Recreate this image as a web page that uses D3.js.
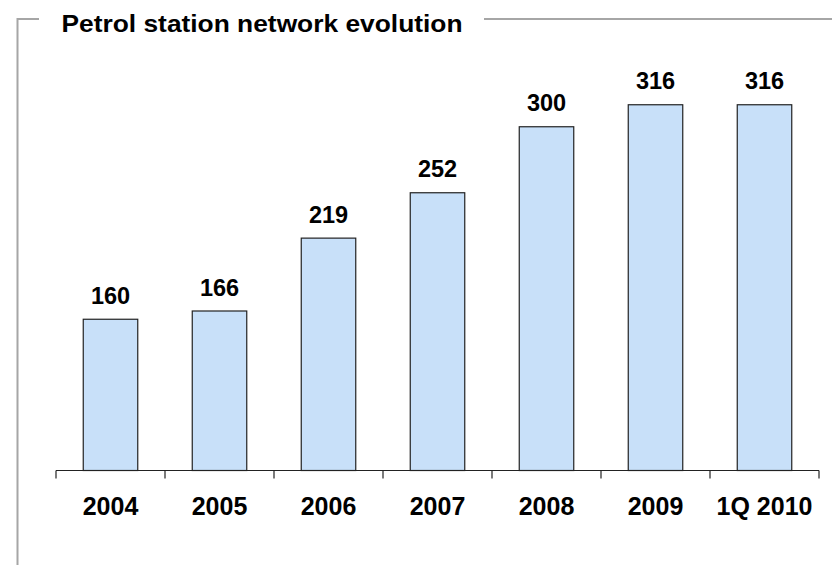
<!DOCTYPE html>
<html><head><meta charset="utf-8">
<script src="https://cdn.jsdelivr.net/npm/d3@7/dist/d3.min.js"></script>
<style>body{margin:0;background:#fff}svg{display:block}text{font-family:"Liberation Sans",Arial,sans-serif;font-weight:bold;fill:#000}</style>
</head><body><svg id="c" width="832" height="565"></svg>
<script>
const categories = ["2004","2005","2006","2007","2008","2009","1Q 2010"];
const stations = [160,166,219,252,300,316,316];
const title = "Petrol station network evolution";

const svg = d3.select("#c");
const W = 832, H = 565;
const plotLeft = 56, plotRight = 819, plotBottom = 470.5, plotTop = 58;

// frame
const frame = svg.append("g").attr("stroke","#a6a6a6").attr("stroke-width",2).attr("fill","none");
frame.append("path").attr("d",`M17.5,${H} V19 H39`);
frame.append("path").attr("d",`M484,19 H${W}`);
svg.append("text").attr("x",61.5).attr("y",31.5).attr("font-size",24)
  .attr("textLength",401).attr("lengthAdjust","spacingAndGlyphs").text(title);

const x = d3.scaleBand().domain(categories).range([plotLeft,plotRight]).paddingInner(0.5).paddingOuter(0.25);
const y = d3.scaleLinear().domain([50,350]).range([plotBottom,plotTop]);

svg.append("g").selectAll("rect").data(stations).join("rect")
  .attr("x",(d,i)=>x(categories[i])).attr("width",x.bandwidth())
  .attr("y",d=>y(d)).attr("height",d=>plotBottom-y(d))
  .attr("fill","#c8e0f9").attr("stroke","#222").attr("stroke-width",1.2);

svg.append("g").selectAll("text").data(stations).join("text")
  .attr("x",(d,i)=>x(categories[i])+x.bandwidth()/2).attr("y",d=>y(d)-15.5)
  .attr("text-anchor","middle").attr("font-size",23.5).text(d=>d);

// axis
const ax = svg.append("g").attr("stroke","#222").attr("stroke-width",1.2);
ax.append("line").attr("x1",plotLeft).attr("x2",plotRight).attr("y1",plotBottom).attr("y2",plotBottom);
const bounds = categories.map(c=>x(c)-x.step()*x.paddingInner()/2).concat([plotRight]);
ax.selectAll("line.t").data(bounds).join("line").attr("class","t")
  .attr("x1",d=>d).attr("x2",d=>d).attr("y1",plotBottom).attr("y2",plotBottom+8);

svg.append("g").selectAll("text").data(categories).join("text")
  .attr("x",d=>x(d)+x.bandwidth()/2).attr("y",515)
  .attr("text-anchor","middle").attr("font-size",25).text(d=>d);
</script></body></html>
